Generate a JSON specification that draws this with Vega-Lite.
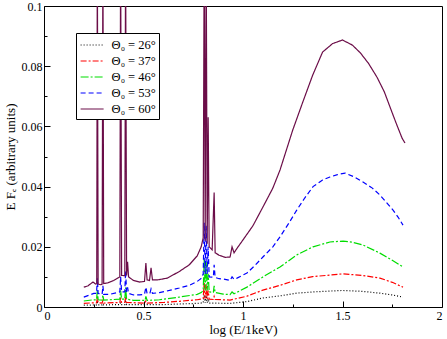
{
  "$schema": "https://vega.github.io/schema/vega-lite/v6.json",
  "width": 398,
  "height": 301,
  "autosize": "none",
  "padding": {"left": 44, "top": 6, "right": 5, "bottom": 32},
  "background": "white",
  "config": {
    "view": {"stroke": "black", "strokeWidth": 1},
    "font": "Liberation Serif",
    "axis": {"labelFont": "Liberation Serif", "titleFont": "Liberation Serif", "labelFontSize": 12, "titleFontSize": 13, "titleFontWeight": "normal", "labelColor": "black", "titleColor": "black", "tickColor": "black", "grid": false, "domain": false}
  },
  "datasets": {
    "spec": [
      {"s": "a", "x": 0.20, "y": 0.0006}, {"s": "a", "x": 0.264, "y": 0.0007}, {"s": "a", "x": 0.268, "y": 0.0015}, {"s": "a", "x": 0.272, "y": 0.0007},
      {"s": "a", "x": 0.292, "y": 0.0007}, {"s": "a", "x": 0.296, "y": 0.0011}, {"s": "a", "x": 0.300, "y": 0.0007},
      {"s": "a", "x": 0.381, "y": 0.0008}, {"s": "a", "x": 0.385, "y": 0.0015}, {"s": "a", "x": 0.390, "y": 0.0008},
      {"s": "a", "x": 0.406, "y": 0.0008}, {"s": "a", "x": 0.410, "y": 0.0018}, {"s": "a", "x": 0.415, "y": 0.0008},
      {"s": "a", "x": 0.60, "y": 0.0008}, {"s": "a", "x": 0.68, "y": 0.0010}, {"s": "a", "x": 0.77, "y": 0.0012},
      {"s": "a", "x": 0.800, "y": 0.0014}, {"s": "a", "x": 0.805, "y": 0.0040}, {"s": "a", "x": 0.810, "y": 0.0014},
      {"s": "a", "x": 0.815, "y": 0.0038}, {"s": "a", "x": 0.820, "y": 0.0014}, {"s": "a", "x": 0.825, "y": 0.0028},
      {"s": "a", "x": 0.830, "y": 0.0013}, {"s": "a", "x": 0.935, "y": 0.0012}, {"s": "a", "x": 1.02, "y": 0.0018},
      {"s": "a", "x": 1.10, "y": 0.0030}, {"s": "a", "x": 1.186, "y": 0.0037}, {"s": "a", "x": 1.27, "y": 0.0046},
      {"s": "a", "x": 1.35, "y": 0.0050}, {"s": "a", "x": 1.437, "y": 0.0053}, {"s": "a", "x": 1.50, "y": 0.0055},
      {"s": "a", "x": 1.60, "y": 0.0052}, {"s": "a", "x": 1.688, "y": 0.0046}, {"s": "a", "x": 1.75, "y": 0.0040},
      {"s": "a", "x": 1.804, "y": 0.0033},

      {"s": "b", "x": 0.20, "y": 0.0012}, {"s": "b", "x": 0.25, "y": 0.0014}, {"s": "b", "x": 0.264, "y": 0.0014}, {"s": "b", "x": 0.268, "y": 0.0030}, {"s": "b", "x": 0.272, "y": 0.0014},
      {"s": "b", "x": 0.292, "y": 0.0013}, {"s": "b", "x": 0.296, "y": 0.0022}, {"s": "b", "x": 0.300, "y": 0.0013},
      {"s": "b", "x": 0.381, "y": 0.0015}, {"s": "b", "x": 0.385, "y": 0.0030}, {"s": "b", "x": 0.390, "y": 0.0015},
      {"s": "b", "x": 0.406, "y": 0.0015}, {"s": "b", "x": 0.410, "y": 0.0035}, {"s": "b", "x": 0.415, "y": 0.0015},
      {"s": "b", "x": 0.508, "y": 0.0013}, {"s": "b", "x": 0.512, "y": 0.0020}, {"s": "b", "x": 0.518, "y": 0.0013},
      {"s": "b", "x": 0.60, "y": 0.0015}, {"s": "b", "x": 0.68, "y": 0.0019}, {"s": "b", "x": 0.77, "y": 0.0024},
      {"s": "b", "x": 0.800, "y": 0.0028}, {"s": "b", "x": 0.805, "y": 0.0080}, {"s": "b", "x": 0.810, "y": 0.0028},
      {"s": "b", "x": 0.815, "y": 0.0075}, {"s": "b", "x": 0.820, "y": 0.0027}, {"s": "b", "x": 0.825, "y": 0.0055},
      {"s": "b", "x": 0.830, "y": 0.0026}, {"s": "b", "x": 0.851, "y": 0.0025}, {"s": "b", "x": 0.855, "y": 0.0035}, {"s": "b", "x": 0.860, "y": 0.0025},
      {"s": "b", "x": 0.935, "y": 0.0023}, {"s": "b", "x": 1.02, "y": 0.0036}, {"s": "b", "x": 1.10, "y": 0.0056},
      {"s": "b", "x": 1.186, "y": 0.0072}, {"s": "b", "x": 1.27, "y": 0.0090}, {"s": "b", "x": 1.35, "y": 0.0101},
      {"s": "b", "x": 1.437, "y": 0.0106}, {"s": "b", "x": 1.50, "y": 0.0110}, {"s": "b", "x": 1.60, "y": 0.0105},
      {"s": "b", "x": 1.688, "y": 0.0096}, {"s": "b", "x": 1.75, "y": 0.0082}, {"s": "b", "x": 1.804, "y": 0.0066},

      {"s": "c", "x": 0.20, "y": 0.0020}, {"s": "c", "x": 0.25, "y": 0.0024}, {"s": "c", "x": 0.264, "y": 0.0024}, {"s": "c", "x": 0.268, "y": 0.0055}, {"s": "c", "x": 0.272, "y": 0.0024},
      {"s": "c", "x": 0.292, "y": 0.0023}, {"s": "c", "x": 0.296, "y": 0.0040}, {"s": "c", "x": 0.300, "y": 0.0023},
      {"s": "c", "x": 0.381, "y": 0.0026}, {"s": "c", "x": 0.385, "y": 0.0055}, {"s": "c", "x": 0.390, "y": 0.0026},
      {"s": "c", "x": 0.406, "y": 0.0026}, {"s": "c", "x": 0.410, "y": 0.0065}, {"s": "c", "x": 0.415, "y": 0.0026},
      {"s": "c", "x": 0.45, "y": 0.0022}, {"s": "c", "x": 0.508, "y": 0.0022}, {"s": "c", "x": 0.512, "y": 0.0035}, {"s": "c", "x": 0.518, "y": 0.0022},
      {"s": "c", "x": 0.58, "y": 0.0024}, {"s": "c", "x": 0.68, "y": 0.0033}, {"s": "c", "x": 0.77, "y": 0.0042},
      {"s": "c", "x": 0.79, "y": 0.0048}, {"s": "c", "x": 0.800, "y": 0.0055}, {"s": "c", "x": 0.805, "y": 0.0160},
      {"s": "c", "x": 0.810, "y": 0.0055}, {"s": "c", "x": 0.815, "y": 0.0150}, {"s": "c", "x": 0.820, "y": 0.0055},
      {"s": "c", "x": 0.825, "y": 0.0110}, {"s": "c", "x": 0.830, "y": 0.0050}, {"s": "c", "x": 0.851, "y": 0.0049}, {"s": "c", "x": 0.855, "y": 0.0070},
      {"s": "c", "x": 0.860, "y": 0.0048}, {"s": "c", "x": 0.90, "y": 0.0043}, {"s": "c", "x": 0.935, "y": 0.0041},
      {"s": "c", "x": 0.945, "y": 0.0050}, {"s": "c", "x": 0.955, "y": 0.0044}, {"s": "c", "x": 1.02, "y": 0.0066},
      {"s": "c", "x": 1.10, "y": 0.0100}, {"s": "c", "x": 1.186, "y": 0.0133}, {"s": "c", "x": 1.27, "y": 0.0173},
      {"s": "c", "x": 1.352, "y": 0.0200}, {"s": "c", "x": 1.437, "y": 0.0216}, {"s": "c", "x": 1.503, "y": 0.0219},
      {"s": "c", "x": 1.55, "y": 0.0215}, {"s": "c", "x": 1.603, "y": 0.0206}, {"s": "c", "x": 1.688, "y": 0.0179},
      {"s": "c", "x": 1.75, "y": 0.0155}, {"s": "c", "x": 1.804, "y": 0.0133},

      {"s": "d", "x": 0.20, "y": 0.0033}, {"s": "d", "x": 0.23, "y": 0.0040}, {"s": "d", "x": 0.25, "y": 0.0045},
      {"s": "d", "x": 0.264, "y": 0.0045}, {"s": "d", "x": 0.268, "y": 0.0095}, {"s": "d", "x": 0.272, "y": 0.0045},
      {"s": "d", "x": 0.292, "y": 0.0042}, {"s": "d", "x": 0.296, "y": 0.0070}, {"s": "d", "x": 0.300, "y": 0.0042},
      {"s": "d", "x": 0.33, "y": 0.0042}, {"s": "d", "x": 0.37, "y": 0.0048}, {"s": "d", "x": 0.381, "y": 0.0050},
      {"s": "d", "x": 0.385, "y": 0.0100}, {"s": "d", "x": 0.390, "y": 0.0050}, {"s": "d", "x": 0.406, "y": 0.0050},
      {"s": "d", "x": 0.410, "y": 0.0120}, {"s": "d", "x": 0.415, "y": 0.0050}, {"s": "d", "x": 0.420, "y": 0.0065},
      {"s": "d", "x": 0.425, "y": 0.0045}, {"s": "d", "x": 0.45, "y": 0.0040}, {"s": "d", "x": 0.48, "y": 0.0040},
      {"s": "d", "x": 0.505, "y": 0.0042}, {"s": "d", "x": 0.512, "y": 0.0066}, {"s": "d", "x": 0.518, "y": 0.0045},
      {"s": "d", "x": 0.532, "y": 0.0045}, {"s": "d", "x": 0.538, "y": 0.0060}, {"s": "d", "x": 0.545, "y": 0.0045},
      {"s": "d", "x": 0.58, "y": 0.0048}, {"s": "d", "x": 0.63, "y": 0.0055}, {"s": "d", "x": 0.68, "y": 0.0063},
      {"s": "d", "x": 0.73, "y": 0.0072}, {"s": "d", "x": 0.77, "y": 0.0085}, {"s": "d", "x": 0.79, "y": 0.0095},
      {"s": "d", "x": 0.800, "y": 0.0110}, {"s": "d", "x": 0.805, "y": 0.0280}, {"s": "d", "x": 0.810, "y": 0.0110},
      {"s": "d", "x": 0.815, "y": 0.0270}, {"s": "d", "x": 0.820, "y": 0.0110}, {"s": "d", "x": 0.825, "y": 0.0200},
      {"s": "d", "x": 0.830, "y": 0.0100}, {"s": "d", "x": 0.851, "y": 0.0099}, {"s": "d", "x": 0.855, "y": 0.0140},
      {"s": "d", "x": 0.860, "y": 0.0098}, {"s": "d", "x": 0.88, "y": 0.0094}, {"s": "d", "x": 0.91, "y": 0.0092},
      {"s": "d", "x": 0.935, "y": 0.0088}, {"s": "d", "x": 0.945, "y": 0.0100}, {"s": "d", "x": 0.955, "y": 0.0092},
      {"s": "d", "x": 0.97, "y": 0.0096}, {"s": "d", "x": 1.02, "y": 0.0113}, {"s": "d", "x": 1.06, "y": 0.0138},
      {"s": "d", "x": 1.10, "y": 0.0166}, {"s": "d", "x": 1.15, "y": 0.0200}, {"s": "d", "x": 1.186, "y": 0.0233},
      {"s": "d", "x": 1.23, "y": 0.0278}, {"s": "d", "x": 1.27, "y": 0.0322}, {"s": "d", "x": 1.31, "y": 0.0362},
      {"s": "d", "x": 1.352, "y": 0.0400}, {"s": "d", "x": 1.40, "y": 0.0422}, {"s": "d", "x": 1.437, "y": 0.0432},
      {"s": "d", "x": 1.475, "y": 0.0440}, {"s": "d", "x": 1.513, "y": 0.0445}, {"s": "d", "x": 1.56, "y": 0.0432},
      {"s": "d", "x": 1.603, "y": 0.0415}, {"s": "d", "x": 1.65, "y": 0.0395}, {"s": "d", "x": 1.688, "y": 0.0372},
      {"s": "d", "x": 1.72, "y": 0.0348}, {"s": "d", "x": 1.754, "y": 0.0322}, {"s": "d", "x": 1.78, "y": 0.0298},
      {"s": "d", "x": 1.804, "y": 0.0272},

      {"s": "e", "x": 0.20, "y": 0.0066}, {"s": "e", "x": 0.22, "y": 0.0070}, {"s": "e", "x": 0.246, "y": 0.0083},
      {"s": "e", "x": 0.26, "y": 0.0076}, {"s": "e", "x": 0.265, "y": 0.0078}, {"s": "e", "x": 0.268, "y": 0.12},
      {"s": "e", "x": 0.272, "y": 0.0076}, {"s": "e", "x": 0.285, "y": 0.0074}, {"s": "e", "x": 0.292, "y": 0.0076},
      {"s": "e", "x": 0.296, "y": 0.12}, {"s": "e", "x": 0.300, "y": 0.0078}, {"s": "e", "x": 0.32, "y": 0.0080},
      {"s": "e", "x": 0.35, "y": 0.0088}, {"s": "e", "x": 0.37, "y": 0.0096}, {"s": "e", "x": 0.381, "y": 0.0100},
      {"s": "e", "x": 0.385, "y": 0.12}, {"s": "e", "x": 0.390, "y": 0.0105}, {"s": "e", "x": 0.406, "y": 0.0104},
      {"s": "e", "x": 0.410, "y": 0.12}, {"s": "e", "x": 0.415, "y": 0.0105}, {"s": "e", "x": 0.420, "y": 0.0150},
      {"s": "e", "x": 0.425, "y": 0.0100}, {"s": "e", "x": 0.45, "y": 0.0088}, {"s": "e", "x": 0.48, "y": 0.0083},
      {"s": "e", "x": 0.505, "y": 0.0085}, {"s": "e", "x": 0.512, "y": 0.0146}, {"s": "e", "x": 0.518, "y": 0.0090},
      {"s": "e", "x": 0.530, "y": 0.0088}, {"s": "e", "x": 0.538, "y": 0.0130}, {"s": "e", "x": 0.545, "y": 0.0090},
      {"s": "e", "x": 0.57, "y": 0.0090}, {"s": "e", "x": 0.62, "y": 0.0096}, {"s": "e", "x": 0.68, "y": 0.0118},
      {"s": "e", "x": 0.73, "y": 0.0140}, {"s": "e", "x": 0.77, "y": 0.0170}, {"s": "e", "x": 0.790, "y": 0.0200},
      {"s": "e", "x": 0.800, "y": 0.0230}, {"s": "e", "x": 0.805, "y": 0.12}, {"s": "e", "x": 0.810, "y": 0.0220},
      {"s": "e", "x": 0.815, "y": 0.12}, {"s": "e", "x": 0.820, "y": 0.0210}, {"s": "e", "x": 0.825, "y": 0.0630},
      {"s": "e", "x": 0.830, "y": 0.0200}, {"s": "e", "x": 0.845, "y": 0.0190}, {"s": "e", "x": 0.855, "y": 0.0380},
      {"s": "e", "x": 0.860, "y": 0.0180}, {"s": "e", "x": 0.88, "y": 0.0172}, {"s": "e", "x": 0.91, "y": 0.0165},
      {"s": "e", "x": 0.935, "y": 0.0166}, {"s": "e", "x": 0.945, "y": 0.0200}, {"s": "e", "x": 0.955, "y": 0.0180},
      {"s": "e", "x": 0.97, "y": 0.0195}, {"s": "e", "x": 1.00, "y": 0.0223}, {"s": "e", "x": 1.05, "y": 0.0270},
      {"s": "e", "x": 1.10, "y": 0.0332}, {"s": "e", "x": 1.15, "y": 0.0395}, {"s": "e", "x": 1.186, "y": 0.0455},
      {"s": "e", "x": 1.25, "y": 0.0588}, {"s": "e", "x": 1.30, "y": 0.0680}, {"s": "e", "x": 1.35, "y": 0.0770},
      {"s": "e", "x": 1.40, "y": 0.0847}, {"s": "e", "x": 1.45, "y": 0.0875}, {"s": "e", "x": 1.50, "y": 0.0887},
      {"s": "e", "x": 1.55, "y": 0.0870}, {"s": "e", "x": 1.59, "y": 0.0844}, {"s": "e", "x": 1.63, "y": 0.0810},
      {"s": "e", "x": 1.673, "y": 0.0764}, {"s": "e", "x": 1.71, "y": 0.0715}, {"s": "e", "x": 1.739, "y": 0.0664},
      {"s": "e", "x": 1.77, "y": 0.0610}, {"s": "e", "x": 1.80, "y": 0.0560}, {"s": "e", "x": 1.814, "y": 0.0545}
    ]
  },
  "data": {"name": "spec"},
  "resolve": {"axis": {"x": "independent", "y": "independent"}},
  "layer": [
    {
      "mark": {"type": "line", "clip": true, "strokeOpacity": 0},
      "encoding": {
        "x": {"field": "x", "type": "quantitative", "scale": {"domain": [0, 2], "nice": false},
              "axis": {"orient": "bottom", "values": [0.25, 0.75, 1.25, 1.75], "labels": false, "tickSize": -3, "title": null}},
        "y": {"field": "y", "type": "quantitative", "scale": {"domain": [0, 0.1], "nice": false},
              "axis": {"orient": "left", "values": [0.01, 0.03, 0.05, 0.07, 0.09], "labels": false, "tickSize": -3, "title": null}},
        "detail": {"field": "s"}
      }
    },
    {
      "mark": {"type": "line", "clip": true, "interpolate": "linear"},
      "encoding": {
        "x": {"field": "x", "type": "quantitative", "scale": {"domain": [0, 2], "nice": false},
              "axis": {"orient": "bottom", "values": [0, 0.5, 1, 1.5, 2], "tickSize": -6, "labelPadding": 9, "title": "log (E/1keV)", "titlePadding": 2, "labelExpr": "datum.value"}},
        "y": {"field": "y", "type": "quantitative", "scale": {"domain": [0, 0.1], "nice": false},
              "axis": {"orient": "left", "values": [0, 0.02, 0.04, 0.06, 0.08, 0.1], "tickSize": -6, "labelPadding": 8, "title": "E Fₑ (arbitrary units)", "titlePadding": 4, "labelExpr": "datum.value"}},
        "color": {"field": "s", "type": "nominal",
                  "scale": {"domain": ["a", "b", "c", "d", "e"], "range": ["#000000", "#ff0000", "#00dd00", "#0000ff", "#6b0d48"]},
                  "legend": {"orient": "none", "legendX": 32, "legendY": 27, "title": null, "strokeColor": "black", "fillColor": "white", "padding": 3,
                             "symbolType": "M-0.9,0H1.9", "symbolSize": 270, "symbolStrokeWidth": 1.5, "labelFont": "Liberation Serif", "labelFontSize": 12.5, "labelColor": "black",
                             "labelOffset": 14.6, "rowPadding": 0, "labelExpr": "{'a':'Θ₀ = 26°','b':'Θ₀ = 37°','c':'Θ₀ = 46°','d':'Θ₀ = 53°','e':'Θ₀ = 60°'}[datum.value]"}},
        "strokeDash": {"field": "s", "type": "nominal",
                       "scale": {"domain": ["a", "b", "c", "d", "e"], "range": [[1, 2], [6, 2, 2, 2], [8, 2, 2, 2], [5, 3], [1, 0]]},
                       "legend": {"orient": "none", "legendX": 32, "legendY": 27, "title": null, "strokeColor": "black", "fillColor": "white", "padding": 3,
                             "symbolType": "M-0.9,0H1.9", "symbolSize": 270, "symbolStrokeWidth": 1.5, "labelFont": "Liberation Serif", "labelFontSize": 12.5, "labelColor": "black",
                             "labelOffset": 14.6, "rowPadding": 0, "labelExpr": "{'a':'Θ₀ = 26°','b':'Θ₀ = 37°','c':'Θ₀ = 46°','d':'Θ₀ = 53°','e':'Θ₀ = 60°'}[datum.value]"}},
        "strokeWidth": {"field": "s", "type": "nominal",
                        "scale": {"domain": ["a", "b", "c", "d", "e"], "range": [1.2, 1.2, 1.2, 1.8, 1.4]}, "legend": null}
      }
    }
  ]
}
